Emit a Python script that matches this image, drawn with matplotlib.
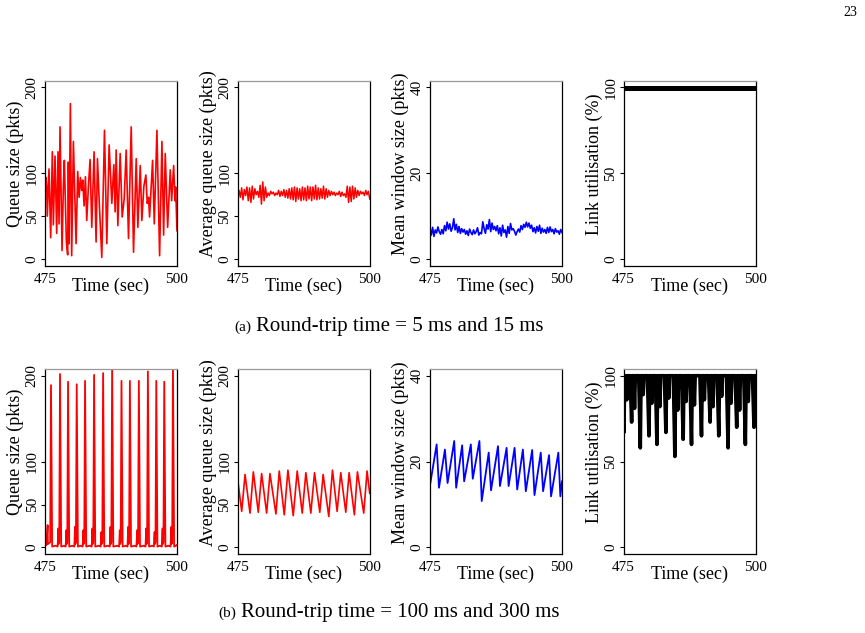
import numpy as np
import matplotlib
matplotlib.use('Agg')
import matplotlib.pyplot as plt

plt.rcParams['font.family'] = ['Liberation Serif', 'DejaVu Serif']

# ---------- (a) round-trip time 5 ms and 15 ms ----------
t_queue_a = [475.0, 475.19, 475.32, 475.44, 475.76, 476.08, 476.39, 476.58, 476.90, 477.22,
             477.47, 477.66, 477.85, 478.23, 478.48, 478.67, 479.05, 479.30, 479.43, 479.56,
             479.81, 480.06, 480.38, 480.89, 481.20, 481.46, 481.71, 481.96, 482.15, 482.41,
             482.66, 482.91, 483.23, 483.54, 483.86, 484.30, 484.68, 484.94, 485.32, 485.76,
             486.27, 486.71, 487.15, 487.66, 488.04, 488.29, 488.48, 488.80, 489.24, 489.62,
             490.00, 490.38, 490.82, 491.33, 491.77, 492.28, 492.59, 493.04, 493.35, 493.73,
             494.11, 494.37, 494.62, 494.81, 495.38, 495.70, 496.20, 496.71, 497.15, 497.47,
             497.78, 498.23, 498.73, 498.99, 499.37, 499.62, 499.75, 500.0]
queue_a = [80, 95, 85, 50, 105, 25, 125, 40, 120, 30,
           125, 41, 154, 10, 84, 115, 20, 5, 113, 18,
           181, 4, 137, 18, 102, 72, 95, 80, 92, 62,
           96, 45, 85, 116, 37, 125, 20, 117, 60, 2,
           150, 18, 133, 65, 110, 55, 127, 39, 123, 49,
           70, 127, 24, 154, 8, 117, 37, 109, 45, 85,
           98, 65, 72, 49, 115, 41, 150, 4, 137, 28,
           123, 37, 104, 68, 109, 68, 84, 33]

avgq_a = [70, 80, 72, 83, 69, 81, 74, 84, 68,
          83, 66, 85, 70, 82, 75, 79, 72,
          86, 64, 90, 68, 84, 72, 77, 74,
          79, 76, 78, 74, 77, 75, 80, 73,
          79, 74, 81, 72, 80, 71, 82, 70,
          83, 69, 84, 67, 83, 70, 82, 68,
          84, 69, 83, 68, 85, 70, 84, 68,
          84, 70, 86, 69, 83, 70, 82, 71,
          85, 70, 82, 72, 80, 74, 79, 75,
          78, 74, 77, 75, 79, 73, 78, 74,
          76, 72, 85, 66, 84, 67, 85, 70,
          83, 72, 80, 74, 79, 76, 78, 74,
          80, 75, 79, 70]

wnd_a = [7.2, 5.6, 7.4, 5.3, 6.8, 6.1, 7.5, 6.4, 5.8,
         6.9, 5.9, 7.8, 6.6, 8.6, 7.0, 8.2, 6.5,
         7.3, 9.4, 6.8, 8.1, 6.2, 7.6, 6.0, 7.1,
         6.3, 6.9, 5.8, 6.6, 5.5, 7.0, 6.2, 5.7,
         6.8, 5.9, 6.4, 7.3, 5.6, 6.2, 5.9, 8.7,
         7.1, 6.0, 8.0, 7.0, 9.2, 6.4, 8.4, 6.9,
         7.6, 6.6, 7.8, 5.9, 7.3, 5.4, 7.9, 6.2,
         6.8, 5.1, 7.6, 6.0, 8.3, 6.8, 7.1, 6.5,
         5.6, 6.4, 7.0, 6.3, 7.8, 6.9, 8.1, 7.4,
         8.6, 7.5, 8.4, 7.2, 7.9, 6.4, 7.3, 6.1,
         7.6, 6.5, 7.9, 6.0, 7.2, 6.3, 6.9, 6.0,
         7.4, 6.2, 7.5, 6.4, 6.9, 5.9, 7.1, 6.3,
         6.6, 5.8, 6.9, 6.2]

t_util_a = [475.0, 500.0]
util_a = [99.6, 99.6]

# ---------- (b) round-trip time 100 ms and 300 ms ----------
t_queue_b = [475.0, 475.3, 475.5, 475.55, 475.99, 476.14, 476.36,
             477.0, 477.4, 477.53, 477.58, 477.70, 477.85, 478.07,
             478.6, 478.92, 479.05, 479.10, 479.22, 479.37, 479.59,
             480.2, 480.56, 480.69, 480.74, 480.86, 481.01, 481.23,
             481.8, 482.14, 482.27, 482.32, 482.44, 482.59, 482.81,
             483.5, 483.85, 483.98, 484.03, 484.15, 484.30, 484.52,
             485.2, 485.56, 485.69, 485.74, 485.86, 486.01, 486.23,
             486.9, 487.27, 487.40, 487.45, 487.57, 487.72, 487.94,
             488.7, 489.04, 489.17, 489.22, 489.34, 489.49, 489.71,
             490.3, 490.63, 490.76, 490.81, 490.93, 491.08, 491.30,
             492.0, 492.33, 492.46, 492.51, 492.63, 492.78, 493.00,
             493.7, 494.04, 494.17, 494.22, 494.34, 494.49, 494.71,
             495.3, 495.63, 495.76, 495.81, 495.93, 496.08, 496.30,
             496.8, 497.14, 497.27, 497.32, 497.44, 497.59, 497.81,
             498.4, 498.79, 498.92, 498.97, 499.09, 499.24, 499.46,
             499.8, 500.0]
queue_b = [2, 3, 26, 4, 6, 189, 1,
           2, 1, 22, 4, 6, 202, 1,
           2, 1, 20, 4, 6, 193, 1,
           2, 1, 24, 4, 6, 190, 1,
           2, 1, 20, 4, 6, 194, 1,
           2, 1, 22, 4, 6, 201, 1,
           2, 1, 18, 4, 6, 203, 1,
           2, 1, 24, 4, 6, 212, 1,
           2, 1, 20, 4, 6, 194, 1,
           2, 1, 24, 4, 6, 194, 1,
           2, 1, 20, 4, 6, 194, 1,
           2, 1, 22, 4, 6, 205, 1,
           2, 1, 18, 4, 6, 194, 1,
           2, 1, 22, 4, 6, 193, 1,
           2, 1, 24, 4, 6, 212, 1,
           2, 3]

t_avgq_b = [475.0, 475.76, 476.39, 477.33, 477.96, 478.90, 479.53, 480.48, 481.11, 482.24,
            482.87, 483.82, 484.51, 485.52, 486.27, 487.22, 487.91, 488.85, 489.55, 490.55,
            491.18, 492.25, 492.95, 493.83, 494.52, 495.47, 496.10, 497.10, 497.67, 498.87,
            499.50, 500.0]
avgq_b = [79, 42, 85, 40, 88, 41, 86, 40, 86, 39,
          89, 38, 90, 37, 89, 40, 87, 40, 87, 41,
          85, 36, 90, 42, 87, 41, 87, 38, 88, 40,
          89, 63]

t_wnd_b = [475.0, 476.26, 476.70, 477.83, 478.33, 479.59, 479.96, 481.09, 481.47, 482.73,
           483.10, 484.36, 484.80, 486.12, 486.56, 487.88, 488.25, 489.51, 489.89, 491.02,
           491.52, 492.59, 493.15, 494.35, 494.79, 495.98, 496.42, 497.55, 497.93, 499.31,
           499.69, 500.0]
wnd_b = [14.5, 24.0, 13.9, 22.8, 15.0, 24.8, 13.9, 23.8, 15.4, 24.0,
         16.0, 24.8, 10.8, 22.1, 13.3, 23.6, 14.3, 23.2, 14.3, 23.2,
         13.5, 22.8, 13.1, 22.7, 12.2, 22.1, 13.1, 21.5, 11.9, 22.1,
         11.9, 15.4]

t_util_b = [475.0, 475.05, 475.2, 475.45, 475.6, 475.75,
            476.21, 476.51, 476.66, 476.91, 477.06, 477.21,
            477.85, 478.15, 478.30, 478.55, 478.70, 478.85,
            479.49, 479.79, 479.94, 480.19, 480.34, 480.49,
            481.00, 481.30, 481.45, 481.70, 481.85, 482.00,
            482.70, 483.00, 483.15, 483.40, 483.55, 483.70,
            484.40, 484.70, 484.85, 485.10, 485.25, 485.40,
            485.97, 486.27, 486.42, 486.67, 486.82, 486.97,
            487.55, 487.85, 488.00, 488.25, 488.40, 488.55,
            489.44, 489.74, 489.89, 490.14, 490.29, 490.44,
            491.07, 491.37, 491.52, 491.77, 491.92, 492.07,
            492.71, 493.01, 493.16, 493.41, 493.56, 493.71,
            494.47, 494.77, 494.92, 495.17, 495.32, 495.47,
            496.11, 496.41, 496.56, 496.81, 496.96, 497.11,
            497.75, 498.05, 498.20, 498.45, 498.60, 498.75,
            499.39, 499.69, 499.84, 500.0]
util_b = [96, 67, 100, 100, 86, 100,
          100, 73, 100, 100, 81, 100,
          100, 58, 100, 100, 89, 100,
          100, 65, 100, 100, 84, 100,
          100, 60, 100, 100, 82, 100,
          100, 67, 100, 100, 87, 100,
          100, 53, 100, 100, 80, 100,
          100, 63, 100, 100, 85, 100,
          100, 60, 100, 100, 83, 100,
          100, 65, 100, 100, 86, 100,
          100, 73, 100, 100, 82, 100,
          100, 65, 100, 100, 88, 100,
          100, 58, 100, 100, 84, 100,
          100, 70, 100, 100, 80, 100,
          100, 60, 100, 100, 85, 100,
          100, 70, 100, 100]

t_fine = np.arange(475, 500.001, 0.25)


def style(ax, ylab, yticks, ylim):
    ax.set_xlim(475, 500)
    ax.set_ylim(*ylim)
    ax.set_xticks([475, 500])
    ax.set_yticks(yticks)
    ax.tick_params(axis='x', length=0, pad=5, labelsize=11)
    ax.tick_params(axis='y', length=3, width=0.8, pad=1.5, labelsize=11, labelrotation=90)
    for lab in ax.get_yticklabels():
        lab.set_va('center')
    for s in ax.spines.values():
        s.set_linewidth(0.9)
    ax.spines['top'].set_color('#999999')
    ax.text(0.5, -0.108, 'Time (sec)', transform=ax.transAxes,
            ha='center', va='center', fontsize=13)
    ax.text(-0.222, 0.55, ylab, transform=ax.transAxes, rotation=90,
            ha='center', va='center', fontsize=13)


fig = plt.figure(figsize=(8.65, 6.33), dpi=100)
lefts = [0.052, 0.2748, 0.4971, 0.721]
w, h = 0.1526, 0.293
rows = [0.5798, 0.1243]

qlim = (-8, 208)
wlim = (-1.6, 41.6)
ulim = (-4, 104)

for r, b in enumerate(rows):
    axs = [fig.add_axes([l, b, w, h]) for l in lefts]
    if r == 0:
        axs[0].plot(t_queue_a, queue_a, color='red', lw=1.2)
        axs[1].plot(t_fine, avgq_a, color='red', lw=1.1)
        axs[2].plot(t_fine, wnd_a, color='blue', lw=1.2)
        axs[3].plot(t_util_a, util_a, color='black', lw=3.6, solid_capstyle='butt')
    else:
        axs[0].plot(t_queue_b, queue_b, color='red', lw=1.3)
        axs[1].plot(t_avgq_b, avgq_b, color='red', lw=1.2)
        axs[2].plot(t_wnd_b, wnd_b, color='blue', lw=1.3)
        axs[3].plot(t_util_b, util_b, color='black', lw=2.6)
    style(axs[0], 'Queue size (pkts)', [0, 50, 100, 200], qlim)
    style(axs[1], 'Average queue size (pkts)', [0, 50, 100, 200], qlim)
    style(axs[2], 'Mean window size (pkts)', [0, 20, 40], wlim)
    style(axs[3], 'Link utilisation (%)', [0, 50, 100], ulim)

fig.text(251 / 865, 1 - 327 / 633, '(a)', ha='right', va='center', fontsize=11)
fig.text(256 / 865, 1 - 327 / 633, 'Round-trip time = 5 ms and 15 ms',
         ha='left', va='center', fontsize=15)
fig.text(236 / 865, 1 - 613 / 633, '(b)', ha='right', va='center', fontsize=11)
fig.text(241 / 865, 1 - 613 / 633, 'Round-trip time = 100 ms and 300 ms',
         ha='left', va='center', fontsize=15)
fig.text(850 / 865, 1 - 12 / 633, '23', ha='center', va='center', fontsize=10)

fig.savefig('out.png', dpi=100)
